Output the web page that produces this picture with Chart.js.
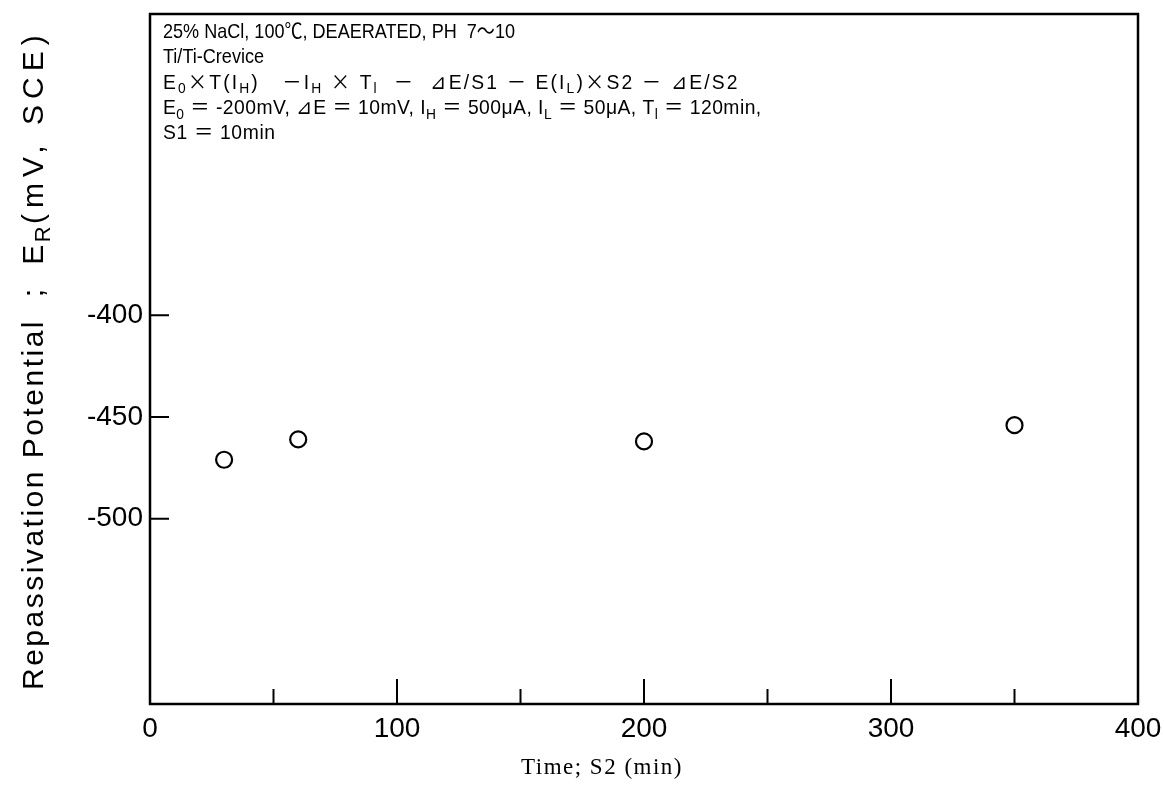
<!DOCTYPE html>
<html>
<head>
<meta charset="utf-8">
<script src="https://cdn.jsdelivr.net/npm/chart.js@4"></script>
<style>
  html, body { margin: 0; padding: 0; background: #fff; }
  #wrap { width: 1164px; height: 800px; }
</style>
</head>
<body>
<div id="wrap"><canvas id="repassChart" width="1164" height="800"></canvas></div>
<script>
// Data
const timeS2 = [30, 60, 200, 350];               // min
const potentialER = [-471, -461, -462, -454];    // mV vs SCE
const yTickValues = [-400, -450, -500];
const xMajorTicks = [0, 100, 200, 300, 400];
const xMinorTicks = [50, 150, 250, 350];

// Condition notes printed inside the frame
// each segment: [text, isSubscript, useCjkFont, letterSpacing]
const noteLines = [
    [["25% NaCl, 100"], ["℃", 0, 1], [", DEAERATED, PH  7"], ["〜", 0, 1], ["10"]],
    [["Ti/Ti-Crevice"]],
    [["E"], ["0", 1], ["×", 0, 1], ["T(I"], ["H", 1], [")   "], ["－", 0, 1], ["I"], ["H", 1], [" "], ["×", 0, 1], [" T"], ["l", 1], ["  "], ["－", 0, 1], ["  ⊿E/S1 "], ["－", 0, 1], [" E(I"], ["L", 1], [")"], ["×", 0, 1], ["S2 "], ["－", 0, 1], [" ⊿E/S2"]],
    [["E"], ["0", 1], [" "], ["＝", 0, 1], [" -200mV, ⊿E "], ["＝", 0, 1], [" 10mV, I"], ["H", 1], [" "], ["＝", 0, 1], [" 500μA, I"], ["L", 1], [" "], ["＝", 0, 1], [" 50μA, T"], ["l", 1], [" "], ["＝", 0, 1], [" 120min,"]],
    [["S1 "], ["＝", 0, 1], [" 10min"]]
];
// horizontal squeeze and letter spacing per note line
const noteSqueeze = [0.86, 0.86, 0.92, 0.92, 0.92];
const noteSpacing = ["0px", "0px", "2.3px", "0.5px", "0.7px"];

const FONT = "'Liberation Sans', Arial, sans-serif";
const CJK = "'Noto Sans CJK JP', sans-serif";

function segFont(s, size) {
    return (s[1] ? Math.round(size * 0.72) : size) + "px " + (s[2] ? CJK : FONT);
}
function drawRich(ctx, x, y, segs, size) {
    let cx = x;
    const baseSpacing = ctx.letterSpacing;
    segs.forEach(s => {
        ctx.font = segFont(s, size);
        ctx.letterSpacing = s[3] || baseSpacing;
        ctx.fillText(s[0], cx, s[1] ? y + size * 0.22 : y);
        cx += ctx.measureText(s[0]).width;
    });
    ctx.letterSpacing = baseSpacing;
}

// Frame, inward ticks, notes and axis titles
const decorPlugin = {
    id: "decor",
    afterDraw(chart) {
        const ctx = chart.ctx;
        const area = chart.chartArea;
        const xs = chart.scales.x, ys = chart.scales.y;
        ctx.save();
        ctx.strokeStyle = "#000";
        ctx.fillStyle = "#000";

        // frame
        ctx.lineWidth = 2.5;
        ctx.strokeRect(area.left, area.top, area.right - area.left, area.bottom - area.top);

        // ticks pointing into the plot
        ctx.lineWidth = 2;
        ctx.beginPath();
        yTickValues.forEach(v => {
            const py = ys.getPixelForValue(v);
            ctx.moveTo(area.left, py);
            ctx.lineTo(area.left + 19, py);
        });
        xMajorTicks.slice(1, -1).forEach(v => {
            const px = xs.getPixelForValue(v);
            ctx.moveTo(px, area.bottom);
            ctx.lineTo(px, area.bottom - 25);
        });
        xMinorTicks.forEach(v => {
            const px = xs.getPixelForValue(v);
            ctx.moveTo(px, area.bottom);
            ctx.lineTo(px, area.bottom - 15);
        });
        ctx.stroke();

        // notes, slightly condensed like the original lettering
        ctx.textBaseline = "alphabetic";
        ctx.textAlign = "left";
        noteLines.forEach((segs, i) => {
            ctx.save();
            ctx.translate(area.left + 13, area.top + 24 + i * 25.3);
            ctx.scale(noteSqueeze[i], 1);
            ctx.letterSpacing = noteSpacing[i];
            drawRich(ctx, 0, 0, segs, 21);
            ctx.restore();
        });

        // y axis title (rotated, reads bottom to top)
        const ySegs = [["Repassivation Potential  ;  E"], ["R", 1], ["(mV, SCE)", 0, 0, "6px"]];
        ctx.save();
        ctx.translate(43, 690);
        ctx.rotate(-Math.PI / 2);
        ctx.letterSpacing = "2.5px";
        drawRich(ctx, 0, 0, ySegs, 30);
        ctx.restore();

        // x axis title, serif
        ctx.save();
        ctx.font = "23px 'Liberation Serif', 'Times New Roman', serif";
        ctx.letterSpacing = "1.5px";
        ctx.textAlign = "center";
        ctx.fillText("Time; S2 (min)", 602, 774);
        ctx.restore();

        ctx.restore();
    }
};

const ctx = document.getElementById("repassChart").getContext("2d");
const repassChart = new Chart(ctx, {
    type: "scatter",
    data: {
        datasets: [{
            data: timeS2.map((t, i) => ({ x: t, y: potentialER[i] })),
            pointStyle: "circle",
            pointRadius: 8,
            pointBorderWidth: 2.2,
            pointBorderColor: "#000",
            pointBackgroundColor: "rgba(255,255,255,0)",
            showLine: false
        }]
    },
    options: {
        responsive: false,
        animation: false,
        devicePixelRatio: 1,
        layout: { padding: { top: 14, right: 26, left: 0, bottom: 0 } },
        plugins: {
            legend: { display: false },
            tooltip: { enabled: false }
        },
        scales: {
            x: {
                type: "linear",
                min: 0,
                max: 400,
                afterBuildTicks: scale => { scale.ticks = xMajorTicks.map(v => ({ value: v })); },
                afterFit: scale => {
                    scale.height = 96;
                    scale.paddingLeft = 0;
                    scale.paddingRight = 0;
                },
                grid: { display: false, drawTicks: false },
                border: { display: false },
                ticks: {
                    color: "#000",
                    padding: 8,
                    maxRotation: 0,
                    font: { family: FONT, size: 28 }
                }
            },
            y: {
                type: "linear",
                min: -591,
                max: -252,
                afterBuildTicks: scale => { scale.ticks = yTickValues.map(v => ({ value: v })); },
                afterFit: scale => {
                    scale.width = 150;
                    scale.paddingTop = 0;
                    scale.paddingBottom = 0;
                },
                grid: { display: false, drawTicks: false },
                border: { display: false },
                ticks: {
                    color: "#000",
                    padding: 7,
                    font: { family: FONT, size: 28 }
                }
            }
        }
    },
    plugins: [decorPlugin]
});
</script>
</body>
</html>
